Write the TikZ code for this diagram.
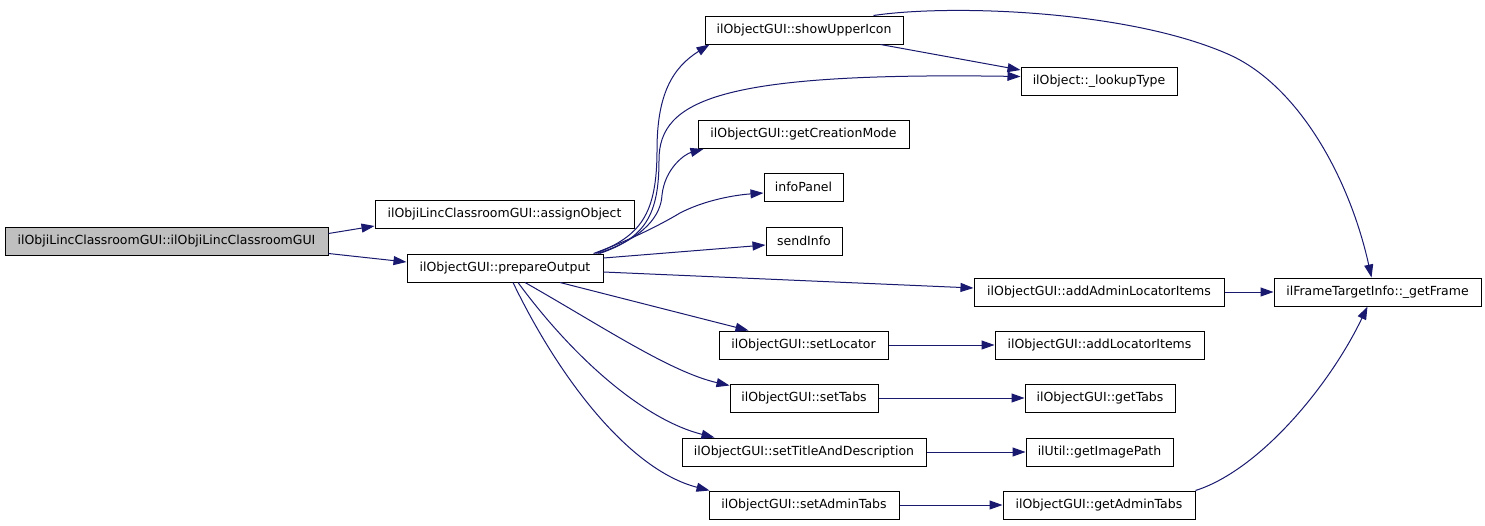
\documentclass[tikz,border=0pt]{standalone}
\usepackage{fontspec}
\setmainfont{DejaVu Sans}
\usetikzlibrary{arrows.meta,calc}
\definecolor{edgeblue}{HTML}{191970}
\definecolor{rootgray}{HTML}{BFBFBF}
\begin{document}
\begin{tikzpicture}[x=1pt,y=-1pt,
  fnbox/.style={draw=black, line width=1pt, fill=white, inner sep=0pt,
    minimum height=28pt, font=\fontsize{12.5}{15}\selectfont},
  edge/.style={draw=edgeblue, line width=1pt,
    -{Triangle[length=13pt,width=9pt]}, fill=none},
]
\fill[white] (0,0) rectangle (1485,525);
\useasboundingbox (0,0) rectangle (1485,525);

\node[fnbox, fill=rootgray, minimum width=323pt] (root) at (166.5,241.5) {ilObjiLincClassroomGUI::ilObjiLincClassroomGUI};
\node[fnbox, minimum width=259pt] (assign) at (504.5,214) {ilObjiLincClassroomGUI::assignObject};
\node[fnbox, minimum width=196pt] (prepare) at (505,268) {ilObjectGUI::prepareOutput};
\node[fnbox, minimum width=198pt] (showUpper) at (804,30) {ilObjectGUI::showUpperIcon};
\node[fnbox, minimum width=156pt] (lookup) at (1099,81.5) {ilObject::\_lookupType};
\node[fnbox, minimum width=211pt] (creation) at (803.5,134.5) {ilObjectGUI::getCreationMode};
\node[fnbox, minimum width=79pt] (infoPanel) at (803.5,187) {infoPanel};
\node[fnbox, minimum width=76pt] (sendInfo) at (804,241) {sendInfo};
\node[fnbox, minimum width=250pt] (addAdmin) at (1099,292) {ilObjectGUI::addAdminLocatorItems};
\node[fnbox, minimum width=207pt] (getFrame) at (1377.5,292) {ilFrameTargetInfo::\_getFrame};
\node[fnbox, minimum width=169pt] (setLocator) at (803.5,345) {ilObjectGUI::setLocator};
\node[fnbox, minimum width=209pt] (addLocator) at (1099.5,345) {ilObjectGUI::addLocatorItems};
\node[fnbox, minimum width=148pt] (setTabs) at (804,398) {ilObjectGUI::setTabs};
\node[fnbox, minimum width=150pt] (getTabs) at (1100,398) {ilObjectGUI::getTabs};
\node[fnbox, minimum width=244pt] (setTitle) at (804,452) {ilObjectGUI::setTitleAndDescription};
\node[fnbox, minimum width=147pt] (imagePath) at (1099.5,452) {ilUtil::getImagePath};
\node[fnbox, minimum width=190pt] (setAdminTabs) at (804,505) {ilObjectGUI::setAdminTabs};
\node[fnbox, minimum width=192pt] (getAdminTabs) at (1099,505) {ilObjectGUI::getAdminTabs};

% root edges
\draw[edge] ($(root.east)+(0,-8)$) -- ($(assign.west)+(0,12)$);
\draw[edge] ($(root.east)+(0,12)$) -- ($(prepare.west)+(0,-6)$);

% prepareOutput edges
\draw[edge] ($(prepare.north east)+(-8,0)$) .. controls (640,236) and (657,215) .. (657,150)
  .. controls (657,95) and (672,68) .. ($(showUpper.south west)+(5,0)$);
\draw[edge] ($(prepare.north east)+(-4,0)$) .. controls (645,238) and (659,215) .. (659,160)
  .. controls (659,100) and (720,72) .. ($(lookup.west)+(0,-5)$);
\draw[edge] ($(prepare.north east)+(-6,0)$) .. controls (645,238) and (661,215) .. (662,195)
  .. controls (665,168) and (685,154) .. ($(creation.south west)+(6,0)$);
\draw[edge] ($(prepare.north east)+(-10,0)$) .. controls (630,240) and (660,225) .. (680,213)
  .. controls (705,200) and (735,195) .. ($(infoPanel.west)+(0,6)$);
\draw[edge] ($(prepare.east)+(0,-10)$) -- ($(sendInfo.west)+(0,4)$);
\draw[edge] ($(prepare.east)+(0,4)$) -- ($(addAdmin.west)+(0,-4)$);
\draw[edge] ($(prepare.south)+(55,0)$) -- ($(setLocator.north west)+(30,0)$);
\draw[edge] ($(prepare.south)+(20,0)$) .. controls (600,325) and (670,372) .. ($(setTabs.north west)+(0,2)$);
\draw[edge] ($(prepare.south)+(13,0)$) .. controls (575,360) and (645,420) .. ($(setTitle.north west)+(33,0)$);
\draw[edge] ($(prepare.south)+(8,0)$) .. controls (560,380) and (630,470) .. ($(setAdminTabs.north west)+(1,0)$);

% second level
\draw[edge] ($(showUpper.south east)+(-23,0)$) -- ($(lookup.north west)+(0,3)$);
\draw[edge] ($(showUpper.north east)+(-30,0)$) .. controls (950,4) and (1130,10) .. (1230,55)
  .. controls (1300,87) and (1350,180) .. ($(getFrame.north)+(-6,0)$);
\draw[edge] (addAdmin.east) -- (getFrame.west);
\draw[edge] (setLocator.east) -- (addLocator.west);
\draw[edge] (setTabs.east) -- (getTabs.west);
\draw[edge] (setTitle.east) -- (imagePath.west);
\draw[edge] (setAdminTabs.east) -- (getAdminTabs.west);
\draw[edge] (getAdminTabs.north east) .. controls (1260,470) and (1330,385) .. ($(getFrame.south)+(-10,0)$);
\end{tikzpicture}
\end{document}
